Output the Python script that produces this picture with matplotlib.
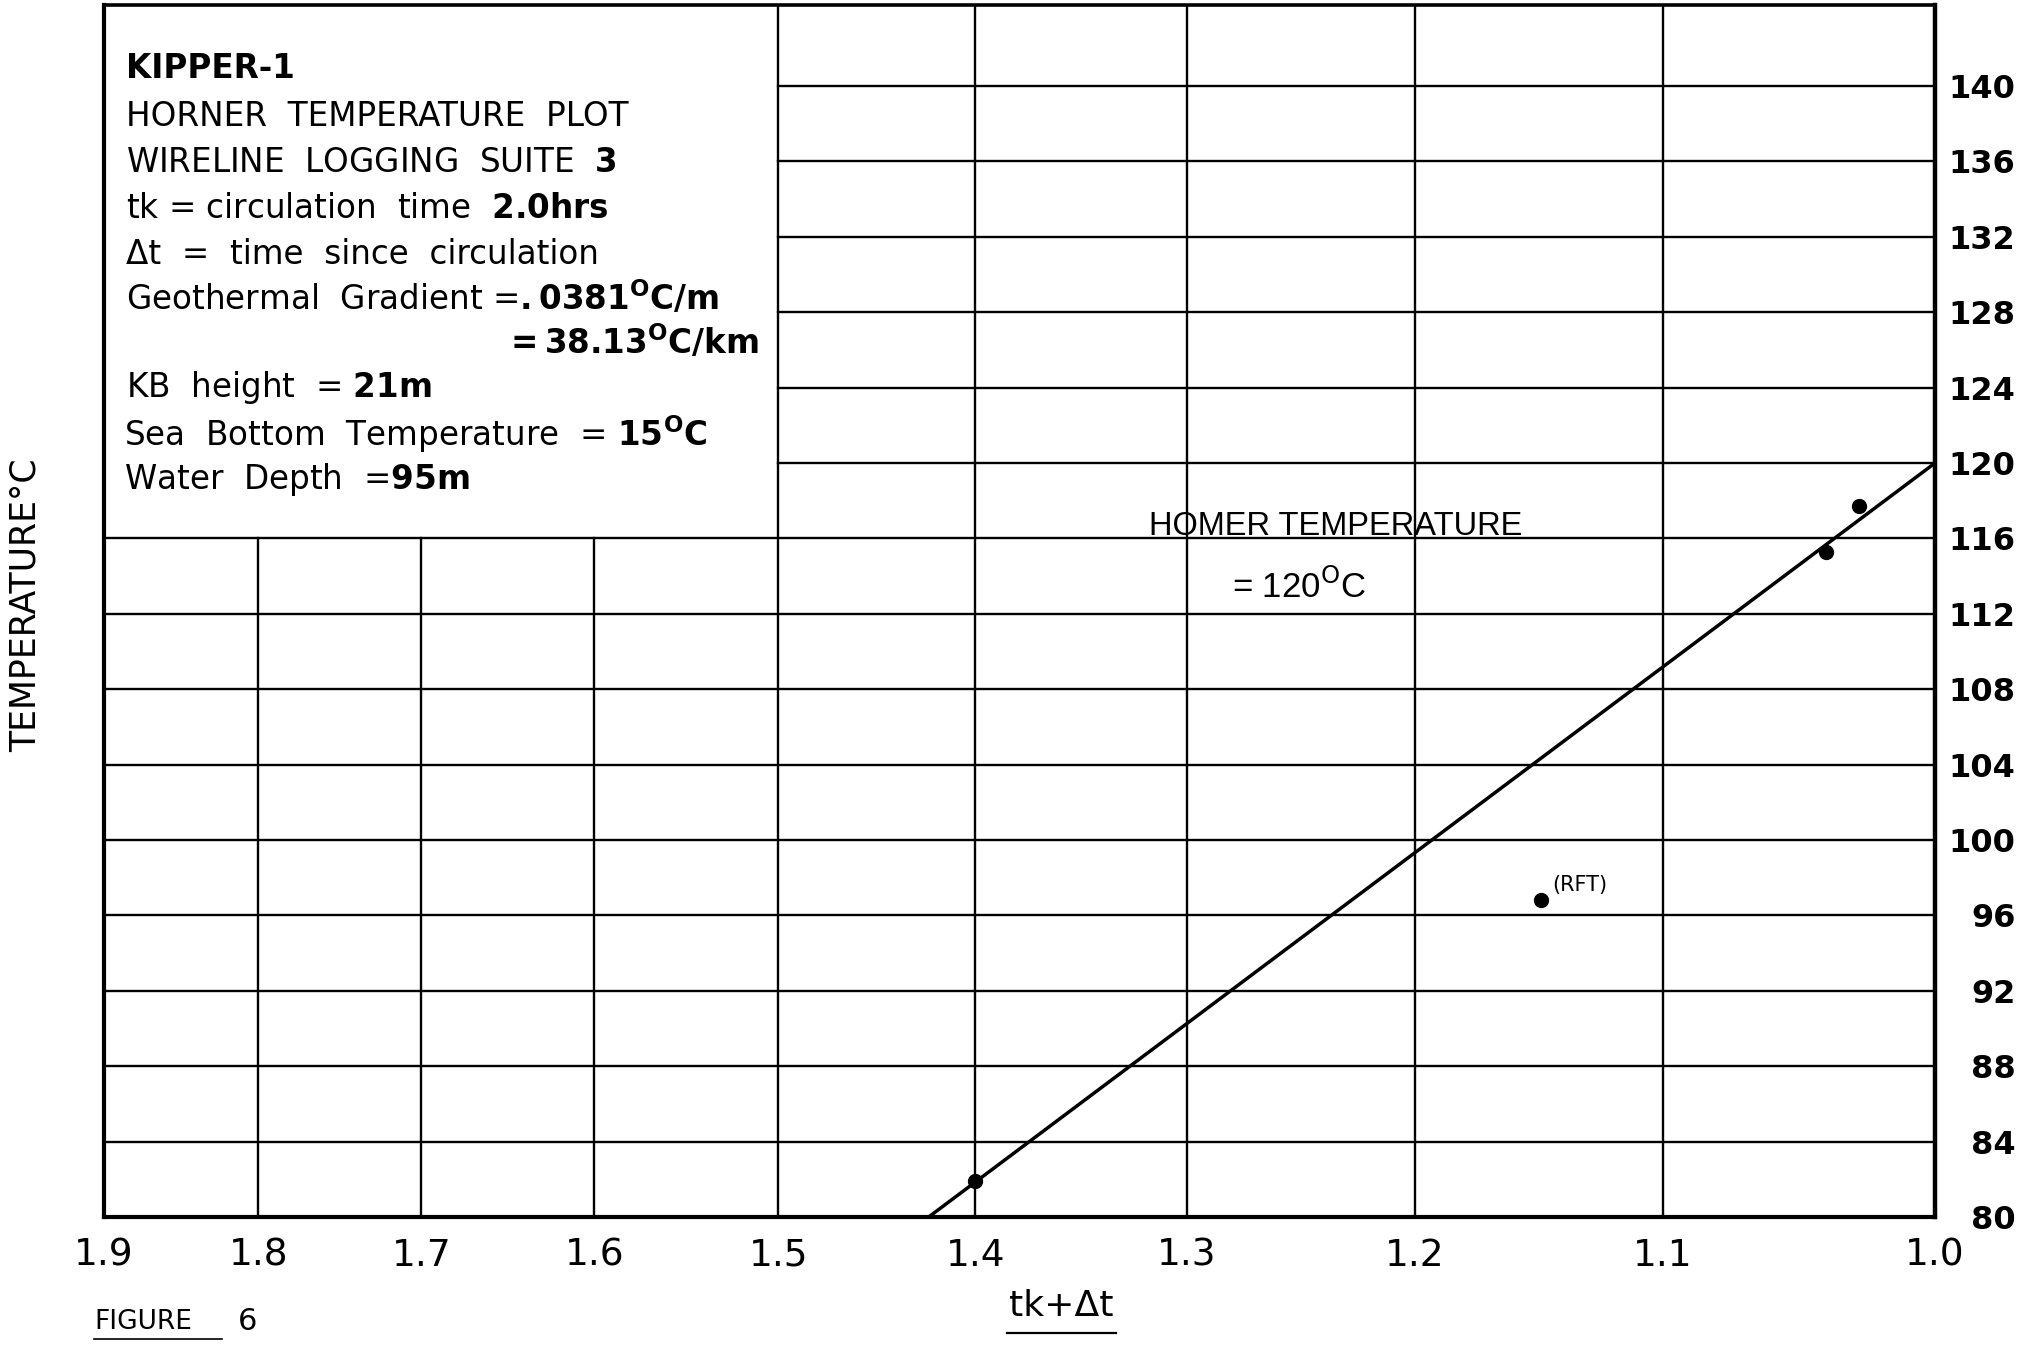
import matplotlib
matplotlib.use("Agg")
import matplotlib.pyplot as plt
from matplotlib.lines import Line2D

# Horner plot values
x_ticks = [1.9, 1.8, 1.7, 1.6, 1.5, 1.4, 1.3, 1.2, 1.1, 1.0]
y_ticks = [80, 84, 88, 92, 96, 100, 104, 108, 112, 116, 120, 124, 128, 132, 136, 140]
meas_x = [1.027, 1.039, 1.40]
meas_y = [117.7, 115.3, 81.9]
rft_x = [1.148]
rft_y = [96.8]
fit_x = [1.0, 1.423]
fit_y = [120.0, 80.0]
horner_temp = 120

box_lines = [
    "KIPPER-1",
    "HORNER  TEMPERATURE  PLOT",
    "WIRELINE  LOGGING  SUITE  $\\mathbf{3}$",
    "tk = circulation  time  $\\mathbf{2.0hrs}$",
    "Δt  =  time  since  circulation",
    "Geothermal  Gradient =$\\mathbf{.0381^{O}C/m}$",
    "$\\mathbf{=38.13^{O}C/km}$",
    "KB  height  = $\\mathbf{21m}$",
    "Sea  Bottom  Temperature  = $\\mathbf{15^{O}C}$",
    "Water  Depth  =$\\mathbf{95m}$",
]

W, H = 2042, 1349
NARROW = ["Liberation Sans Narrow", "DejaVu Sans"]


def fx(px):
    return px / W


def fy(py):
    return 1 - py / H


def main():
    fig = plt.figure(figsize=(W / 100, H / 100), dpi=100)
    ax = fig.add_axes([fx(104), fy(1217), fx(1935) - fx(104), fy(5) - fy(1217)])
    ax.set_xscale("log")
    ax.set_xlim(1.9, 1.0)
    ax.set_ylim(80, 144.3)
    box_top_y = 116  # the caption box sits on the 116 line, left of 1.5

    grid_kw = dict(color="black", lw=1.7, zorder=1)
    for v in x_ticks[1:-1]:
        if v > 1.5:
            ax.plot([v, v], [80, box_top_y], **grid_kw)
        else:
            ax.plot([v, v], [80, 144.3], **grid_kw)
    for t in y_ticks[1:]:
        if t > box_top_y:
            ax.plot([1.5, 1.0], [t, t], **grid_kw)
        else:
            ax.plot([1.9, 1.0], [t, t], **grid_kw)

    ax.plot(fit_x, fit_y, color="black", lw=2.5, zorder=3)
    ax.plot(meas_x, meas_y, "o", color="black", ms=10, zorder=4)
    ax.plot(rft_x, rft_y, "o", color="black", ms=10, zorder=4)
    ax.annotate("(RFT)", (rft_x[0], rft_y[0]), xytext=(8, 11), textcoords="offset points",
                fontsize=15, family=NARROW, ha="left", va="center")

    for side in ("left", "bottom"):
        ax.spines[side].set_linewidth(3.0)
    ax.spines["right"].set_linewidth(3.2)
    ax.spines["top"].set_linewidth(2.6)

    ax.set_xticks(x_ticks)
    ax.set_xticklabels([f"{v:.1f}" for v in x_ticks], family=NARROW, fontsize=27)
    ax.xaxis.set_minor_locator(plt.NullLocator())
    ax.tick_params(axis="x", length=0, pad=15)
    ax.yaxis.tick_right()
    ax.set_yticks(y_ticks)
    ax.set_yticklabels([str(t) for t in y_ticks], fontsize=23, fontweight="bold")
    for lab in ax.get_yticklabels():
        lab.set_ha("right")
    ax.tick_params(axis="y", length=0, pad=58)

    # caption box text
    ys = [68, 117, 163, 208, 254, 298, 342, 388, 434, 479]
    xs = [126, 126, 126, 126, 126, 126, 504, 126, 124, 124]
    for i, (s, px, py) in enumerate(zip(box_lines, xs, ys)):
        w = "bold" if i == 0 else "normal"
        fig.text(fx(px), fy(py), s, fontsize=23.5, fontweight=w, ha="left", va="center")

    fig.text(fx(1149), fy(527), "HOMER TEMPERATURE", family="Liberation Sans", fontsize=23.5,
             ha="left", va="center")
    fig.text(fx(1232), fy(587), f"= {horner_temp}$^{{\\mathrm{{O}}}}$C", family="Liberation Sans",
             fontsize=25, ha="left", va="center")

    fig.text(fx(26), fy(605), "TEMPERATURE°C", rotation=90, fontsize=25, ha="center", va="center")

    fig.text(fx(1061), fy(1306), "tk+Δt", family=NARROW, fontsize=26, ha="center", va="center")
    fig.add_artist(Line2D([fx(1007), fx(1116)], [fy(1333), fy(1333)], color="black", lw=1.6))

    fig.text(fx(94), fy(1322), "FIGURE", family=NARROW, fontsize=19, ha="left", va="center")
    fig.text(fx(238), fy(1322), "6", family=NARROW, fontsize=22, ha="left", va="center")
    fig.add_artist(Line2D([fx(94), fx(222)], [fy(1339), fy(1339)], color="black", lw=1.2))

    fig.savefig("out.png", dpi=100, facecolor="white")


if __name__ == "__main__":
    main()
